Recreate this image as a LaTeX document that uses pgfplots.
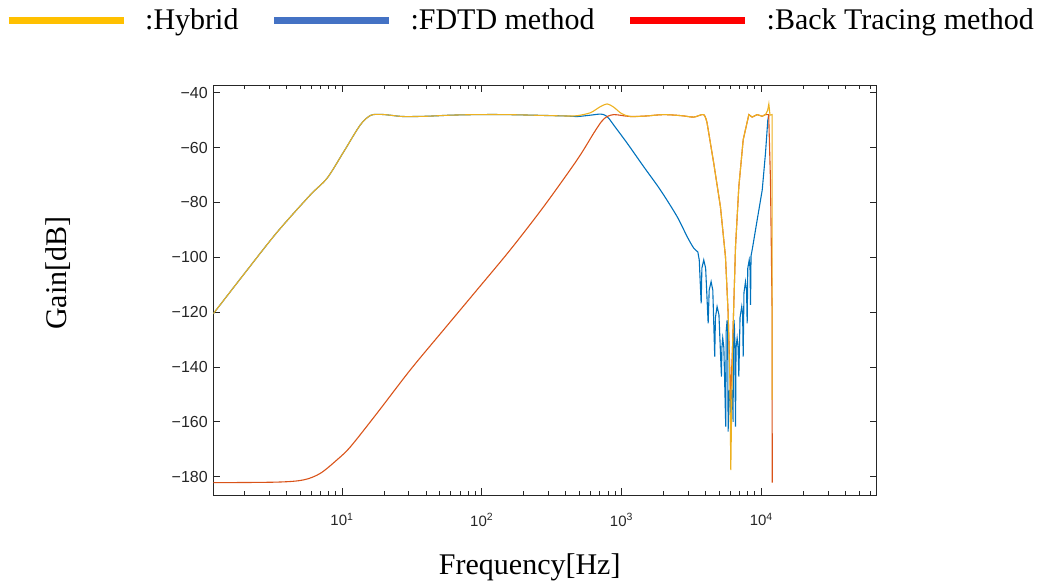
\documentclass[border=0pt]{standalone}
\usepackage{fontspec}
\setmainfont{Liberation Serif}
\setsansfont{Liberation Sans}
\usepackage{pgfplots}
\pgfplotsset{compat=1.18}
\usepackage{pgfplotstable}

\definecolor{fdtdblue}{RGB}{0,114,189}
\definecolor{btred}{RGB}{217,83,25}
\definecolor{hybyellow}{RGB}{237,177,32}
\definecolor{legyellow}{HTML}{FFC000}
\definecolor{legblue}{HTML}{4472C4}
\definecolor{legred}{HTML}{FF0000}
\definecolor{axgray}{HTML}{262626}

% FDTD method, smooth part
\pgfplotstableread{
f db
1.2 -120.6
1.98 -106.3
3.43 -90.9
5.93 -77.3
7.82 -71.2
10.3 -61.5
13.5 -51.8
16.0 -48.3
18.8 -47.9
22 -48.2
27.6 -48.7
40 -48.6
60 -48.2
92.5 -48.0
150 -48.0
277 -48.3
400 -48.5
481 -48.7
600 -48.2
706 -47.8
760 -48.2
809 -49.3
900 -52.5
1097 -58.4
1442 -67.0
1899 -75.5
2500 -85.2
2949 -92.5
3289 -96.7
3515 -98.0
}\fdtdlow
% FDTD method, notches
\pgfplotstableread{
f db
3515 -98.0
3600 -101
3716 -116.8
3760 -104
3877 -101.0
4000 -104
4169 -124.1
4240 -112
4377 -108.9
4500 -112
4645 -136.2
4700 -122
4830 -118.0
4980 -121
5188 -143.5
5230 -133
5300 -129.5
5400 -133
5570 -161.8
5610 -127
5700 -122.9
5750 -128
5795 -163.6
5850 -152
5920 -148.4
5980 -152
6050 -160
6110 -152
6180 -148.4
6230 -152
6290 -160
6320 -127
6380 -122.9
6450 -127
6545 -161.8
6600 -133
6720 -129.5
6830 -133
6910 -143.5
7050 -122
7250 -118.0
7360 -121
7425 -136.2
7520 -113
7715 -108.9
7850 -112
7930 -124.1
8010 -104
8200 -101.0
8310 -104
8380 -117.4
8450 -99.5
8610 -97.3
9350 -86.4
10160 -75.5
10720 -62.1
11140 -50.0
11330 -48.0
}\fdtdhigh

% Back Tracing method
\pgfplotstableread{
f db
1.2 -182.2
3.43 -182.0
5.31 -181.2
7.0 -178.8
9.2 -173.9
11.5 -169.1
17.8 -156.9
30.8 -141.1
53.3 -126.5
92.5 -111.9
160 -97.3
277 -81.6
481 -64.5
632 -54.8
720 -50.5
789 -48.7
880 -48.0
1000 -48.3
1159 -48.7
1500 -48.5
2004 -48.0
2700 -48.4
3289 -48.9
3877 -48.0
4100 -51.2
}\backlow
\pgfplotstableread{
f db
4100 -51.2
4570 -65.7
5104 -81.6
5545 -99.8
5795 -120.4
5960 -142
6055 -152
6150 -140
6230 -132.6
6545 -96.1
6910 -74.3
7425 -57.2
8150 -48.0
8610 -48.9
9350 -48.0
10160 -48.6
10720 -48.0
11300 -48.0
11640 -72
11960 -120
11980 -182.2
}\backhigh

% Hybrid
\pgfplotstableread{
f db
1.2 -120.6
1.98 -106.3
3.43 -90.9
5.93 -77.3
7.82 -71.2
10.3 -61.5
13.5 -51.8
16.0 -48.3
18.8 -47.9
22 -48.2
27.6 -48.7
40 -48.6
60 -48.2
92.5 -48.0
150 -48.0
277 -48.3
400 -48.5
481 -48.4
600 -47.3
700 -45.2
789 -44.1
880 -45.3
1000 -47.6
1159 -48.7
1500 -48.5
2004 -48.0
2700 -48.4
3289 -48.9
3877 -48.0
4100 -51.2
}\hyblow
\pgfplotstableread{
f db
4100 -51.2
4570 -65.7
5104 -81.6
5545 -99.8
5795 -120.4
5960 -144.7
6055 -177.6
6230 -132.6
6545 -96.1
6910 -74.3
7425 -57.2
8150 -48.0
8610 -48.9
9350 -48.0
10160 -48.6
10720 -48.0
11100 -46.5
11330 -44.1
11550 -48.2
11950 -48.0
11970 -152.0
}\hybhigh

\begin{document}
\begin{tikzpicture}
\useasboundingbox (0pt,0pt) rectangle (1051pt,586pt);
\begin{axis}[
    at={(213.3pt,91pt)}, anchor=south west,
    scale only axis,
    width=663.4pt, height=410pt,
    xmode=log,
    xmin=1.2, xmax=67000,
    ymin=-186.7, ymax=-37.2,
    xtick={10,100,1000,10000},
    xticklabels={10\textsuperscript{1},10\textsuperscript{2},10\textsuperscript{3},10\textsuperscript{4}},
    minor xtick={2,3,4,5,6,7,8,9,20,30,40,50,60,70,80,90,200,300,400,500,600,700,800,900,2000,3000,4000,5000,6000,7000,8000,9000,20000,30000,40000,50000,60000},
    ytick={-180,-160,-140,-120,-100,-80,-60,-40},
    yticklabels={−180,−160,−140,−120,−100,−80,−60,−40},
    tick pos=both,
    tick align=inside,
    major tick length=7pt,
    minor tick length=4pt,
    every tick/.style={axgray, line width=0.8pt},
    axis line style={axgray, line width=0.9pt},
    xticklabel style={font=\fontsize{15}{15}\sffamily, text=axgray, yshift=-15pt},
    yticklabel style={font=\fontsize{16}{16}\sffamily, text=axgray, xshift=-2pt},
    label style={font=\fontsize{30}{30}\selectfont},
    xlabel={Frequency[Hz]},
    ylabel={Gain[dB]},
    xlabel style={at={(axis description cs:0.477,-0.176)}, anchor=center},
    ylabel style={at={(axis description cs:-0.234,0.541)}, anchor=center},
    legend columns=3,
    legend image code/.code={\draw[line width=7pt] (0pt,0pt) -- (115pt,0pt);},
    legend style={
        at={(axis description cs:-0.3140,1.1585)}, anchor=west,
        draw=none, fill=none, inner sep=0pt,
        font=\fontsize{30}{30}\selectfont,
        nodes={inner sep=0pt},
        /tikz/every odd column/.append style={column sep=18pt},
        /tikz/every even column/.append style={column sep=32pt},
    },
    legend cell align=left,
]
\addlegendimage{legyellow}
\addlegendentry{:Hybrid}
\addlegendimage{legblue}
\addlegendentry{:FDTD method}
\addlegendimage{legred}
\addlegendentry{:Back Tracing method}

\addplot[fdtdblue, line width=1.1pt, smooth, forget plot] table[x=f, y=db] {\fdtdlow};
\addplot[fdtdblue, line width=1.1pt, forget plot] table[x=f, y=db] {\fdtdhigh};
\addplot[btred, line width=1.1pt, smooth, forget plot] table[x=f, y=db] {\backlow};
\addplot[btred, line width=1.1pt, forget plot] table[x=f, y=db] {\backhigh};
\addplot[hybyellow, line width=1.1pt, smooth, forget plot] table[x=f, y=db] {\hyblow};
\addplot[hybyellow, line width=1.1pt, forget plot] table[x=f, y=db] {\hybhigh};
\end{axis}
\end{tikzpicture}
\end{document}
